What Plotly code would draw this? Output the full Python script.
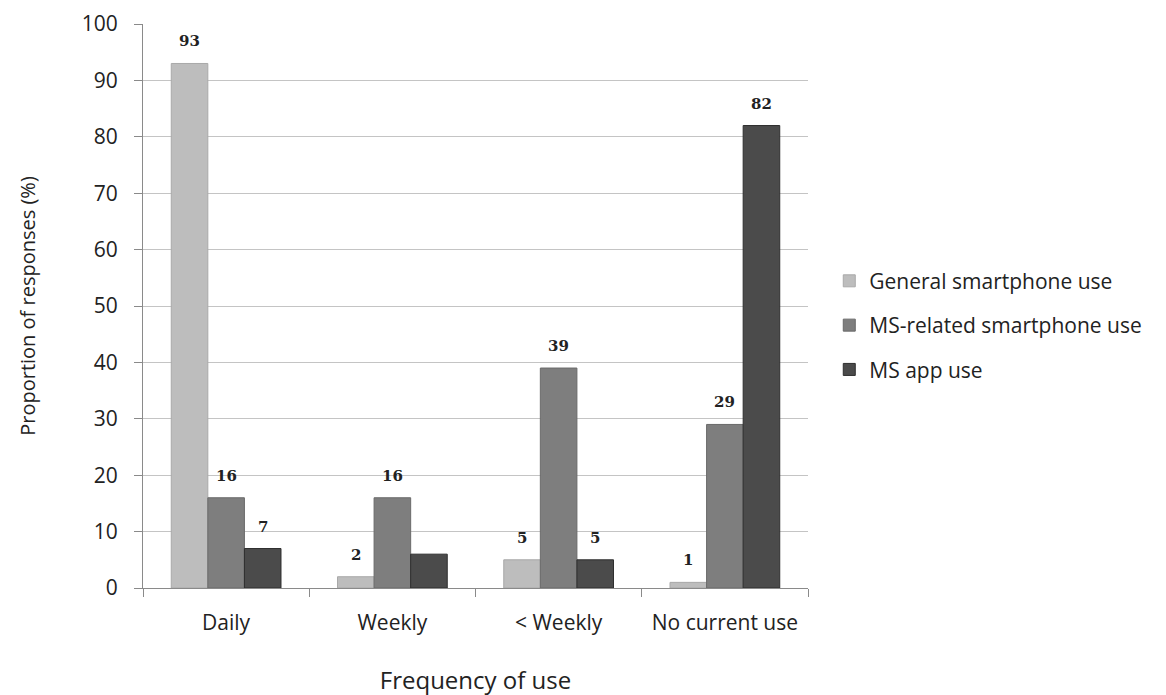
import plotly.graph_objects as go

categories = ["Daily", "Weekly", "< Weekly", "No current use"]
series_names = ["General smartphone use", "MS-related smartphone use", "MS app use"]
general_use = [93, 2, 5, 1]
ms_related_use = [16, 16, 39, 29]
ms_app_use = [7, 6, 5, 82]
show_label_general = [True, True, True, True]
show_label_ms_related = [True, True, True, True]
show_label_ms_app = [True, False, True, True]

series_values = [general_use, ms_related_use, ms_app_use]
series_show = [show_label_general, show_label_ms_related, show_label_ms_app]
fill_colors = ["#bdbdbd", "#7e7e7e", "#4b4b4b"]
line_colors = ["#a9a9a9", "#6a6a6a", "#2e2e2e"]

W, H = 1166, 695
# page body has an 8px margin; margins compensate
margin = dict(l=135, r=366, t=16, b=115)
bargap = 0.34
plot_w = W - margin["l"] - margin["r"]
cat_w = plot_w / len(categories)
bar_w = cat_w * (1 - bargap) / len(series_values)

fig = go.Figure()
for k, (name, vals) in enumerate(zip(series_names, series_values)):
    fig.add_trace(go.Bar(
        x=categories, y=vals, name=name,
        marker=dict(color=fill_colors[k], line=dict(color=line_colors[k], width=1)),
        legendgroup=f"g{k}",
    ))

annotations = []
for k, (vals, show) in enumerate(zip(series_values, series_show)):
    for i, (c, v) in enumerate(zip(categories, vals)):
        if not show[i]:
            continue
        annotations.append(dict(
            x=c, y=v, xref="x", yref="y", text=f"<b>{v}</b>", showarrow=False,
            xshift=(k - 1) * bar_w, yshift=22, yanchor="middle",
            font=dict(family="DejaVu Serif", size=15, color="#222222"),
        ))

fig.update_layout(
    width=W, height=H, margin=margin,
    paper_bgcolor="white", plot_bgcolor="white",
    barmode="group", bargap=bargap, bargroupgap=0,
    font=dict(family="Open Sans", size=21, color="#222222"),
    annotations=annotations,
    legend=dict(
        x=1.032, y=0.466, xanchor="left", yanchor="middle",
        traceorder="grouped", tracegroupgap=14,
        font=dict(family="Open Sans", size=21, color="#222222"),
        itemwidth=30,
    ),
    showlegend=True,
)
fig.update_yaxes(
    range=[0, 100], dtick=10, showgrid=True, gridcolor="#c4c4c4", gridwidth=1,
    showline=True, linecolor="#8a8a8a", linewidth=1,
    ticks="outside", ticklen=8, tickcolor="#8a8a8a", ticklabelstandoff=12,
    tickfont=dict(size=21), automargin=False,
    zeroline=False,
    title=dict(text="Proportion of responses (%)", standoff=40,
               font=dict(family="Open Sans", size=20)),
)
fig.update_xaxes(
    showline=True, linecolor="#8a8a8a", linewidth=1,
    ticks="outside", ticklen=8, tickcolor="#8a8a8a", tickson="boundaries",
    ticklabelstandoff=16, tickfont=dict(size=21), automargin=False,
    title=dict(text="Frequency of use", standoff=36,
               font=dict(family="Open Sans", size=24)),
)

fig.write_html("out.html")
